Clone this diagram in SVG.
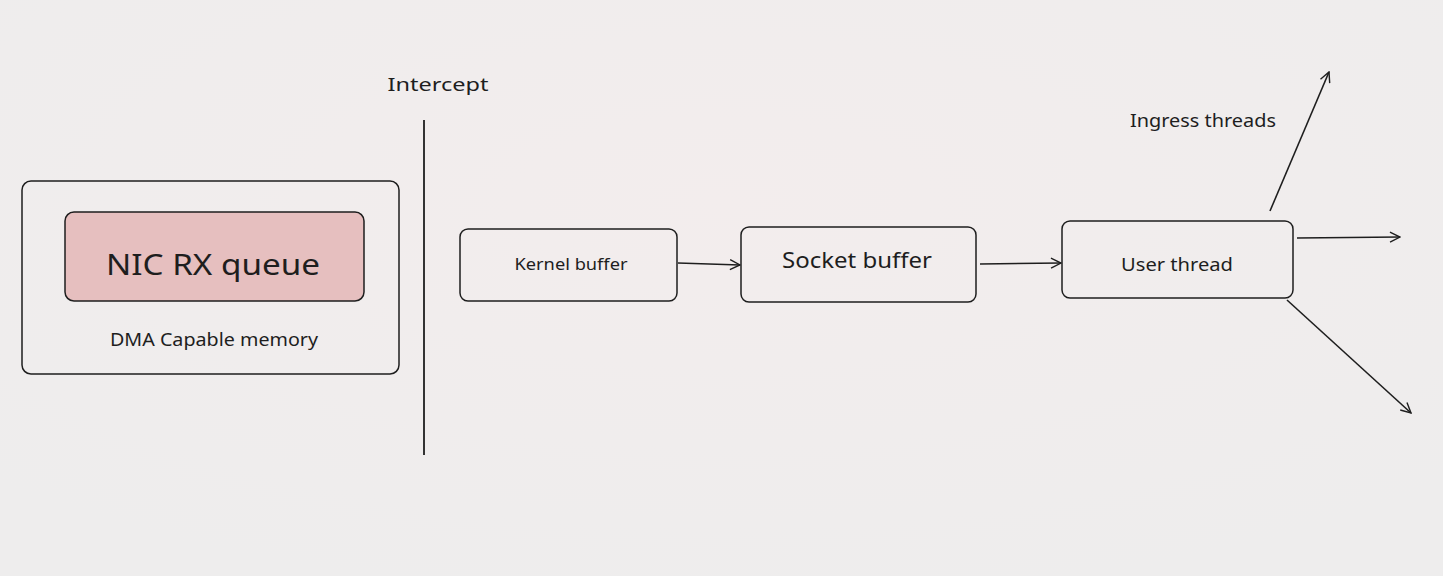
<svg xmlns="http://www.w3.org/2000/svg" width="1443" height="576" viewBox="0 0 1443 576">
<defs>
<radialGradient id="bg" cx="0.5" cy="0.35" r="0.7">
<stop offset="0" stop-color="#f3eded"/>
<stop offset="1" stop-color="#eeeded"/>
</radialGradient>
<marker id="ah" viewBox="0 0 12 12" refX="11" refY="6" markerWidth="12" markerHeight="12" markerUnits="userSpaceOnUse" orient="auto">
<path d="M1,1 L11,6 L1,11" fill="none" stroke="#1e1e1e" stroke-width="1.4"/>
</marker>
</defs>
<style>
.box{fill:none;stroke:#1e1e1e;stroke-width:1.5}
.edge{fill:none;stroke:#1e1e1e;stroke-width:1.6}
.t{font-family:"Noto Sans","Liberation Sans",sans-serif;fill:#1e1e1e;text-anchor:middle}
</style>
<rect width="1443" height="576" fill="url(#bg)"/>
<g id="dma-memory">
<rect class="box" x="22" y="181" width="377" height="193" rx="9"/>
<text class="t" x="214" y="346" font-size="18" textLength="208" lengthAdjust="spacingAndGlyphs">DMA Capable memory</text>
</g>
<g id="nic-rx-queue">
<rect x="65" y="212" width="299" height="89" rx="9" fill="#e6bfbf" stroke="#1e1e1e" stroke-width="1.5"/>
<text class="t" x="213" y="275" font-size="29" textLength="214" lengthAdjust="spacingAndGlyphs">NIC RX queue</text>
</g>
<g id="intercept">
<line x1="424" y1="120" x2="424" y2="455" stroke="#1e1e1e" stroke-width="1.8"/>
<text class="t" x="438" y="91" font-size="18" textLength="101" lengthAdjust="spacingAndGlyphs">Intercept</text>
</g>
<g id="kernel-buffer">
<rect class="box" x="460" y="229" width="217" height="72" rx="8"/>
<text class="t" x="571" y="270" font-size="16" textLength="113" lengthAdjust="spacingAndGlyphs">Kernel buffer</text>
</g>
<g id="socket-buffer">
<rect class="box" x="741" y="227" width="235" height="75" rx="8"/>
<text class="t" x="857" y="268" font-size="21" textLength="150" lengthAdjust="spacingAndGlyphs">Socket buffer</text>
</g>
<g id="user-thread">
<rect class="box" x="1062" y="221" width="231" height="77" rx="8"/>
<text class="t" x="1177" y="271" font-size="18" textLength="112" lengthAdjust="spacingAndGlyphs">User thread</text>
</g>
<g id="ingress-label">
<text class="t" x="1203" y="127" font-size="18" textLength="146" lengthAdjust="spacingAndGlyphs">Ingress threads</text>
</g>
<g id="connectors">
<path class="edge" d="M678,263 L740,265" marker-end="url(#ah)"/>
<path class="edge" d="M980,264 L1061,263" marker-end="url(#ah)"/>
<path class="edge" d="M1270,211 L1329,72" marker-end="url(#ah)"/>
<path class="edge" d="M1297,238 L1400,237" marker-end="url(#ah)"/>
<path class="edge" d="M1287,300 L1411,413" marker-end="url(#ah)"/>
</g>
</svg>
